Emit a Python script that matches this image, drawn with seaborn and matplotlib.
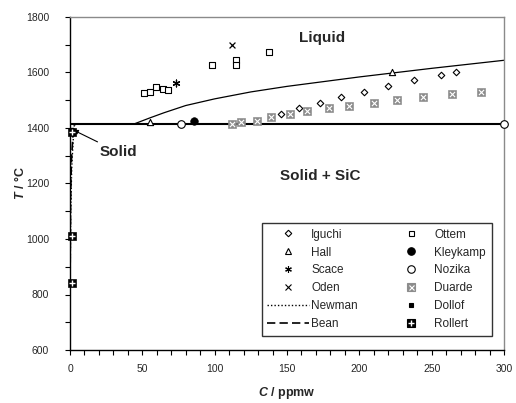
import numpy as np
import pandas as pd
import seaborn as sns
import matplotlib
matplotlib.use("Agg")
import matplotlib.pyplot as plt
from matplotlib.lines import Line2D
from matplotlib.ticker import MultipleLocator

# --- data (C in ppmw, T in deg C) ---
iguchi_c = [146, 158.5, 173, 187.5, 203, 220, 237.5, 256.5, 266.5]
iguchi_t = [1452, 1473, 1491, 1513, 1530, 1552, 1572, 1591, 1600]

hall_c = [55.5, 222.5]
hall_t = [1420, 1600]

scace_c = [73]
scace_t = [1563]

oden_c = [112]
oden_t = [1700]

ottem_c = [51, 55, 59.5, 64, 68, 98.5, 115, 115, 137.5]
ottem_t = [1527, 1531, 1549, 1542, 1537, 1626, 1645, 1626, 1673]

kleykamp_c = [85.5]
kleykamp_t = [1424]

nozika_c = [76.5, 300]
nozika_t = [1414, 1414]

duarde_c = [112, 118.5, 129, 139, 152, 164, 179, 193, 210, 226, 244, 264, 284]
duarde_t = [1413, 1420, 1427, 1438, 1449, 1461, 1471, 1479, 1490, 1500, 1511, 1521, 1530]

dollof_c = [1.5]
dollof_t = [1392]

rollert_c = [1.2, 1.2, 1.2]
rollert_t = [840, 1012, 1387]

newman_c = [0.0, 0.5, 1.2, 2.2, 3.0]
newman_t = [780, 1100, 1260, 1355, 1414]

bean_c = [0.0, 0.4, 1.0, 2.0, 3.5]
bean_t = [780, 1150, 1285, 1370, 1414]

liquidus_c = [44, 55, 65, 80, 100, 125, 150, 200, 250, 300]
liquidus_t = [1414, 1436, 1455, 1481, 1505, 1530, 1550, 1584, 1615, 1644]

melting_c = [0, 300]
melting_t = [1414, 1414]

# --- style ---
sns.set_style("ticks")
plt.rcParams["font.family"] = ["Liberation Sans", "DejaVu Sans"]
plt.rcParams["mathtext.fontset"] = "custom"
plt.rcParams["mathtext.it"] = "Liberation Sans:italic:bold"
plt.rcParams["mathtext.rm"] = "Liberation Sans:bold"
plt.rcParams["mathtext.bf"] = "Liberation Sans:bold"

fig = plt.figure(figsize=(5.16, 4.03), dpi=100)
ax = fig.add_axes([70 / 516, 1 - 350 / 403, 434 / 516, 333 / 403])

# --- lines ---
sns.lineplot(x=melting_c, y=melting_t, ax=ax, color="black", lw=1.5, sort=False,
             estimator=None)
sns.lineplot(x=liquidus_c, y=liquidus_t, ax=ax, color="black", lw=0.9, sort=False,
             estimator=None)
sns.lineplot(x=newman_c, y=newman_t, ax=ax, color="black", lw=1.0, ls=(0, (1, 1.5)),
             sort=False, estimator=None)
sns.lineplot(x=bean_c, y=bean_t, ax=ax, color="black", lw=1.2, ls=(0, (5, 2.5)),
             sort=False, estimator=None)

# --- markers ---
asterisk = (6, 2, 0)
grey = "#8c8c8c"
sc = dict(ax=ax, legend=False, zorder=4, clip_on=False)
sns.scatterplot(x=iguchi_c, y=iguchi_t, marker="D", s=11, facecolor="white",
                edgecolor="black", linewidth=0.8, **sc)
sns.scatterplot(x=ottem_c, y=ottem_t, marker="s", s=13, facecolor="white",
                edgecolor="black", linewidth=0.8, **sc)
sns.scatterplot(x=hall_c, y=hall_t, marker="^", s=20, facecolor="white",
                edgecolor="black", linewidth=0.8, **sc)
sns.scatterplot(x=scace_c, y=scace_t, marker=asterisk, s=24, color="black",
                linewidth=0.9, **sc)
sns.scatterplot(x=oden_c, y=oden_t, marker="x", s=18, color="black",
                linewidth=0.9, **sc)
sns.scatterplot(x=kleykamp_c, y=kleykamp_t, marker="o", s=30, color="black",
                edgecolor="black", **sc)
sns.scatterplot(x=nozika_c, y=nozika_t, marker="o", s=30, facecolor="white",
                edgecolor="black", linewidth=0.8, **sc)
sns.scatterplot(x=duarde_c, y=duarde_t, marker="s", s=32, color=grey,
                edgecolor=grey, **sc)
sns.scatterplot(x=duarde_c, y=duarde_t, marker="x", s=14, color="white",
                linewidth=0.8, **sc)
sns.scatterplot(x=dollof_c, y=dollof_t, marker="s", s=12, color="black",
                edgecolor="black", **sc)
sns.scatterplot(x=rollert_c, y=rollert_t, marker="s", s=34, color="black",
                edgecolor="black", **sc)
sns.scatterplot(x=rollert_c, y=rollert_t, marker="+", s=16, color="white",
                linewidth=1.0, **sc)

# --- axes ---
ax.set_xlim(0, 300)
ax.set_ylim(600, 1800)
ax.xaxis.set_major_locator(MultipleLocator(50))
ax.xaxis.set_minor_locator(MultipleLocator(10))
ax.yaxis.set_major_locator(MultipleLocator(200))
ax.yaxis.set_minor_locator(MultipleLocator(100))
ax.tick_params(which="both", direction="out", length=3.5, width=0.8,
               color="black", labelsize=7.5)
ax.tick_params(axis="x", which="both", pad=6.5)
ax.tick_params(axis="y", which="both", pad=11.5)
for side in ("left", "bottom"):
    ax.spines[side].set_color("black")
    ax.spines[side].set_linewidth(1.0)
for side in ("top", "right"):
    ax.spines[side].set_visible(True)
    ax.spines[side].set_color("#8a8a8a")
    ax.spines[side].set_linewidth(1.0)

ax.set_xlabel(r"$\it{C}$ / ppmw", fontsize=9, fontweight="bold", labelpad=8)
ax.set_ylabel(r"$\it{T}$ / °C", fontsize=9, fontweight="bold")
ax.yaxis.set_label_coords(-0.100, 0.5)

# --- region labels ---
ax.text(174, 1725, "Liquid", fontsize=11, fontweight="bold", ha="center", va="center")
ax.text(173, 1228, "Solid + SiC", fontsize=11, fontweight="bold", ha="center",
        va="center")
ax.annotate("Solid", xy=(2.2, 1393), xytext=(20.5, 1313), fontsize=11,
            fontweight="bold", ha="left", va="center",
            arrowprops=dict(arrowstyle="-|>", color="black", lw=0.8,
                            mutation_scale=7, shrinkA=0, shrinkB=0))

# --- legend ---
def mk(marker, ms, mfc="black", mec="black", mew=0.8):
    return Line2D([], [], ls="none", marker=marker, markersize=ms,
                  markerfacecolor=mfc, markeredgecolor=mec, markeredgewidth=mew)

handles = [
    mk("D", 3.3, "white"),
    mk("^", 4.3, "white"),
    mk(asterisk, 4.8),
    mk("x", 4.2),
    Line2D([], [], color="black", lw=1.0, ls=(0, (1, 1.5))),
    Line2D([], [], color="black", lw=1.2, ls=(0, (5, 2.5))),
    mk("s", 3.6, "white"),
    mk("o", 5.4),
    mk("o", 5.4, "white"),
    (mk("s", 5.6, grey, grey), mk("x", 3.6, mec="white", mew=0.8)),
    mk("s", 3.5),
    (mk("s", 5.8), mk("+", 4, mec="white", mew=1.0)),
]
labels = ["Iguchi", "Hall", "Scace", "Oden", "Newman", "Bean",
          "Ottem", "Kleykamp", "Nozika", "Duarde", "Dollof", "Rollert"]
leg = ax.legend(handles, labels, ncol=2, loc="lower right",
                bbox_to_anchor=(0.9724, 0.042), fontsize=8.5, frameon=True,
                fancybox=False, edgecolor="black", handlelength=3.5,
                handletextpad=0.2, columnspacing=2.8, labelspacing=0.5,
                borderpad=0.5, borderaxespad=0)
leg.get_frame().set_linewidth(1.0)

fig.savefig("out.png", dpi=100)
